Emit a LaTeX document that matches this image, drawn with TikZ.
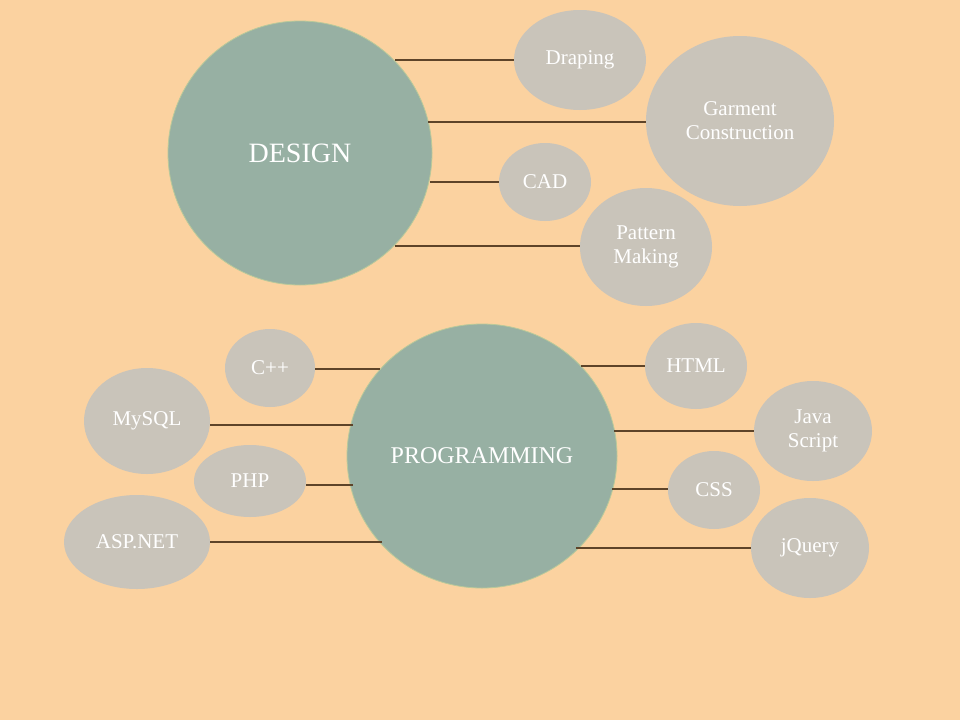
\documentclass[tikz,border=0pt]{standalone}
\usepackage{fontspec}
\setmainfont{Liberation Serif}
\usetikzlibrary{shapes.geometric}
\definecolor{bg}{HTML}{FBD2A0}
\definecolor{hub}{HTML}{97B0A3}
\definecolor{hubedge}{HTML}{B9C99A}
\definecolor{leaf}{HTML}{C9C4BA}
\definecolor{link}{HTML}{5E4429}
\tikzset{
  hubnode/.style={ellipse, fill=hub, draw=hubedge, line width=0.8pt, inner sep=0pt, text=white, font=\fontsize{28}{30}\selectfont},
  leafnode/.style={ellipse, fill=leaf, draw=none, inner sep=0pt, text=white, align=center, font=\fontsize{21}{24}\selectfont},
  linkline/.style={draw=link, line width=1.2pt}
}
\begin{document}
\begin{tikzpicture}[x=1pt,y=-1pt]
\fill[bg] (0,0) rectangle (960,720);
\useasboundingbox (0,0) rectangle (960,720);
% DESIGN group
\node[hubnode, minimum width=264, minimum height=264] (design) at (300,153) {DESIGN};
\node[leafnode, minimum width=132, minimum height=100] (drap) at (580,60) {Draping};
\node[leafnode, minimum width=188, minimum height=170] (garm) at (740,121) {Garment\\Construction};
\node[leafnode, minimum width=92, minimum height=78] (cad) at (545,182) {CAD};
\node[leafnode, minimum width=132, minimum height=118] (patt) at (646,247) {Pattern\\Making};
\coordinate (d1) at (395,60);
\coordinate (d2) at (428,122);
\coordinate (d3) at (430,182);
\coordinate (d4) at (395,246);
\draw[linkline] (d1) -- (d1 -| drap.west);
\draw[linkline] (d2) -- (d2 -| garm.west);
\draw[linkline] (d3) -- (d3 -| cad.west);
\draw[linkline] (d4) -- (d4 -| patt.west);
% PROGRAMMING group
\node[hubnode, minimum width=270, minimum height=264, font=\fontsize{24}{26}\selectfont] (prog) at (482,456) {PROGRAMMING};
\node[leafnode, minimum width=90, minimum height=78] (cpp) at (270,368) {C++};
\node[leafnode, minimum width=126, minimum height=106] (mysql) at (147,421) {MySQL};
\node[leafnode, minimum width=112, minimum height=72] (php) at (250,481) {PHP};
\node[leafnode, minimum width=146, minimum height=94] (asp) at (137,542) {ASP.NET};
\node[leafnode, minimum width=102, minimum height=86] (html) at (696,366) {HTML};
\node[leafnode, minimum width=118, minimum height=100] (js) at (813,431) {Java\\Script};
\node[leafnode, minimum width=92, minimum height=78] (css) at (714,490) {CSS};
\node[leafnode, minimum width=118, minimum height=100] (jq) at (810,548) {jQuery};
\coordinate (p1) at (380,369);
\coordinate (p2) at (353,425);
\coordinate (p3) at (353,485);
\coordinate (p4) at (382,542);
\coordinate (p5) at (581,366);
\coordinate (p6) at (614,431);
\coordinate (p7) at (612,489);
\coordinate (p8) at (576,548);
\draw[linkline] (p1 -| cpp.east) -- (p1);
\draw[linkline] (p2 -| mysql.east) -- (p2);
\draw[linkline] (p3 -| php.east) -- (p3);
\draw[linkline] (p4 -| asp.east) -- (p4);
\draw[linkline] (p5) -- (p5 -| html.west);
\draw[linkline] (p6) -- (p6 -| js.west);
\draw[linkline] (p7) -- (p7 -| css.west);
\draw[linkline] (p8) -- (p8 -| jq.west);
\end{tikzpicture}
\end{document}
